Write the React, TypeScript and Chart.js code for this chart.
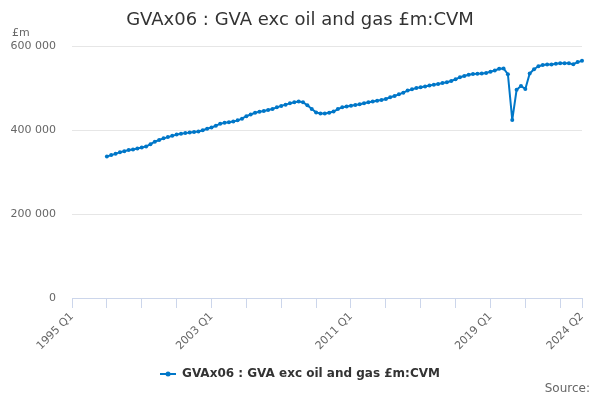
import { useEffect, useRef } from "react";
import { Chart, registerables } from "chart.js";

Chart.register(...registerables);

const titleText = "GVAx06 : GVA exc oil and gas £m:CVM";
const seriesName = "GVAx06 : GVA exc oil and gas £m:CVM";
const unitLabel = "£m";
const sourceLabel = "Source:";

const firstYear = 1995;
const lastYear = 2024;
const lastQuarter = 2;
const seriesStart = "1997 Q1";
const labeledCategories = ["1995 Q1", "2003 Q1", "2011 Q1", "2019 Q1", "2024 Q2"];
const yTickValues = [0, 200000, 400000, 600000];

// GVA exc oil and gas, £m CVM, 1997 Q1 .. 2024 Q2
const values = [
  337800, 341000, 344000, 348000,
  350500, 353000, 354500, 357000,
  359000, 361500, 367000, 373000,
  377000, 381000, 384000, 387000,
  390000, 392000, 393500, 395000,
  396000, 397500, 400500, 404000,
  407000, 411000, 416000, 418000,
  419500, 421000, 424000, 428000,
  434000, 438000, 442000, 444500,
  446500, 448500, 451000, 455000,
  458500, 461500, 464500, 467000,
  469000, 467000, 460000, 451000,
  443000, 440500, 440500, 442000,
  445000, 451000, 455000, 457000,
  459000, 460500, 462500, 465000,
  467000, 469000, 471000, 472500,
  475000, 479000, 482000, 486000,
  490000, 495000, 498000, 501000,
  503000, 505000, 507000, 509000,
  510500, 513000, 515000, 518000,
  522000, 527000, 530000, 533000,
  534500, 535000, 536000, 537000,
  540000, 543000, 547000, 548000,
  534000, 425000, 497000, 506000,
  499000, 536000, 546000, 553000,
  556000, 557000, 557500, 559000,
  560500, 560500, 560000, 558000,
  563000, 566000,
];

const categories: string[] = [];
for (let y = firstYear; y <= lastYear; y++) {
  for (let q = 1; q <= 4; q++) {
    if (y === lastYear && q > lastQuarter) break;
    categories.push(`${y} Q${q}`);
  }
}
const startIndex = categories.indexOf(seriesStart);
const seriesData = categories.map((_, i) =>
  i >= startIndex && i - startIndex < values.length ? values[i - startIndex] : null
);

const LINE = "#0077c8";
const FONT = "'DejaVu Sans', Verdana, sans-serif";

function fmt(v: number) {
  return String(v).replace(/\B(?=(\d{3})+(?!\d))/g, " ");
}

export default function App() {
  const ref = useRef<HTMLCanvasElement | null>(null);

  useEffect(() => {
    document.body.style.margin = "0";
    const canvas = ref.current;
    if (!canvas) return;

    const sym = document.createElement("canvas");
    sym.width = 16;
    sym.height = 8;
    const sctx = sym.getContext("2d")!;
    sctx.strokeStyle = LINE;
    sctx.lineWidth = 2;
    sctx.beginPath();
    sctx.moveTo(0, 4);
    sctx.lineTo(16, 4);
    sctx.stroke();
    sctx.fillStyle = LINE;
    sctx.beginPath();
    sctx.arc(8, 4, 2.5, 0, Math.PI * 2);
    sctx.fill();

    const extraText = {
      id: "extraText",
      afterDraw(chart: any) {
        const ctx = chart.ctx;
        ctx.save();
        ctx.fillStyle = "#666666";
        ctx.font = `11px ${FONT}`;
        ctx.textBaseline = "middle";
        ctx.textAlign = "left";
        ctx.fillText(unitLabel, 12, 33);
        ctx.font = `12px ${FONT}`;
        ctx.textAlign = "right";
        ctx.fillText(sourceLabel, 590, 389);
        ctx.restore();
      },
    };

    const tickEvery = 8;
    const lastIdx = categories.length - 1;

    const chart = new Chart(canvas, {
      type: "line",
      data: {
        labels: categories,
        datasets: [
          {
            label: seriesName,
            data: seriesData,
            borderColor: LINE,
            backgroundColor: LINE,
            borderWidth: 2,
            borderJoinStyle: "round",
            borderCapStyle: "round",
            pointRadius: 2,
            pointBorderWidth: 0,
            pointBackgroundColor: LINE,
            tension: 0,
          },
        ],
      },
      options: {
        responsive: false,
        animation: false,
        layout: { padding: { top: 0, right: 9, bottom: 10, left: 9 } },
        plugins: {
          title: {
            display: true,
            text: titleText,
            color: "#333333",
            font: { family: FONT, size: 18, weight: "normal" },
            padding: { top: 10, bottom: 15 },
          },
          legend: {
            position: "bottom",
            labels: {
              usePointStyle: true,
              pointStyleWidth: 16,
              padding: 10,
              color: "#333333",
              font: { family: FONT, size: 12, weight: "bold" },
              generateLabels(c: any) {
                const items = (Chart.defaults.plugins.legend.labels as any).generateLabels(c);
                return items.map((it: any) => ({ ...it, pointStyle: sym }));
              },
            },
          },
          tooltip: { enabled: false },
        },
        scales: {
          x: {
            type: "category",
            offset: false,
            afterBuildTicks(scale: any) {
              scale.ticks = scale.ticks.filter(
                (t: any) => t.value % tickEvery === 0 || t.value === lastIdx
              );
            },
            afterFit(scale: any) {
              scale.height = 60;
              scale.paddingRight = 18;
            },
            border: { display: true, color: "#ccd6eb", width: 1 },
            grid: {
              display: true,
              drawOnChartArea: false,
              drawTicks: true,
              tickLength: 10,
              color: "#ccd6eb",
              lineWidth: 1,
            },
            ticks: {
              autoSkip: false,
              minRotation: 45,
              maxRotation: 45,
              padding: 2,
              color: "#666666",
              font: { family: FONT, size: 11 },
              callback(value: any) {
                const lab = categories[value as number];
                return labeledCategories.includes(lab) ? lab : "";
              },
            },
          },
          y: {
            min: yTickValues[0],
            max: yTickValues[yTickValues.length - 1],
            afterBuildTicks(scale: any) {
              scale.ticks = yTickValues.map((v) => ({ value: v }));
            },
            afterFit(scale: any) {
              scale.width = 63;
            },
            border: { display: false },
            grid: { color: "#e6e6e6", lineWidth: 1, drawTicks: false },
            ticks: {
              padding: 16,
              color: "#666666",
              font: { family: FONT, size: 11 },
              callback(value: any) {
                return fmt(Number(value));
              },
            },
          },
        },
      },
      plugins: [extraText],
    } as any);

    return () => chart.destroy();
  }, []);

  return (
    <div style={{ width: 600, height: 400 }}>
      <canvas ref={ref} width={600} height={400} style={{ display: "block" }} />
    </div>
  );
}
